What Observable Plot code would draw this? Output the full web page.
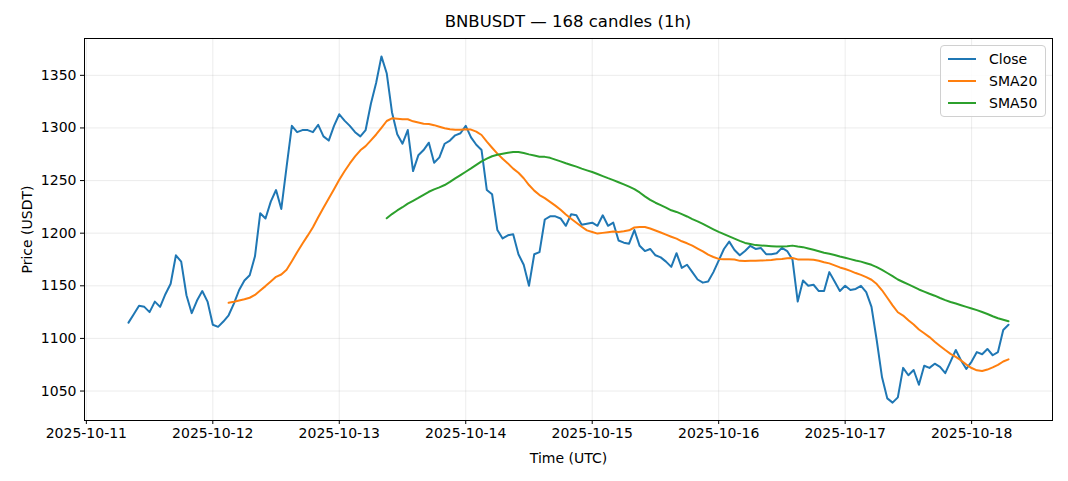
<!DOCTYPE html>
<html>
<head>
<meta charset="utf-8">
<script src="https://cdn.jsdelivr.net/npm/d3@7"></script>
<script src="https://cdn.jsdelivr.net/npm/@observablehq/plot@0.6"></script>
<style>
  body { margin: 0; background: #fff; font-family: "DejaVu Sans", sans-serif; }
  #wrap { position: relative; width: 1068px; height: 481px; overflow: hidden; }
  #title { height: 34px; box-sizing: border-box; padding-top: 10px; line-height: 24px; font-size: 16.5px; color: #000; position: relative; }
  #title span { position: absolute; left: 568px; transform: translateX(-50%); white-space: nowrap; }
  #legend { position: absolute; left: 940px; top: 45px; width: 106px; height: 72px; box-sizing: border-box;
    border: 1px solid #d0d0d0; border-radius: 4px; background: rgba(255,255,255,0.85); font-size: 14px; }
  .item { position: absolute; left: 7px; height: 22px; display: flex; align-items: center; }
  .item i { display: inline-block; width: 28px; height: 2px; margin-right: 13px; }
</style>
</head>
<body>
<div id="wrap">
  <div id="title"><span>BNBUSDT — 168 candles (1h)</span></div>
  <div id="chart"></div>
  <div id="legend"></div>
</div>
<script>
// ---- data ----
const firstCandleUTC = "2025-10-11T08:00:00Z";
const close = [
  1115,1123,1131,1130,1125,1135,1130,1142,1152,1179,
  1173,1141,1124,1136,1145,1135,1113,1111,1116,1122,
  1133,1146,1155,1160,1178,1219,1214,1230,1241,1223,
  1263,1302,1296,1298,1298,1296,1303,1292,1288,1302,
  1313,1307,1302,1296,1292,1298,1323,1343,1368,1352,
  1315,1294,1285,1298,1259,1274,1279,1286,1267,1272,
  1285,1288,1293,1295,1302,1291,1284,1279,1241,1237,
  1203,1195,1198,1199,1180,1170,1150,1180,1182,1213,
  1216,1216,1214,1207,1218,1217,1208,1209,1210,1207,
  1217,1207,1210,1193,1191,1190,1203,1188,1183,1185,
  1179,1177,1173,1168,1181,1167,1170,1163,1156,1153,
  1154,1163,1174,1185,1192,1184,1179,1183,1188,1185,
  1186,1180,1180,1181,1186,1183,1175,1135,1155,1150,
  1151,1145,1145,1163,1154,1145,1150,1146,1147,1150,
  1144,1130,1098,1063,1043,1039,1044,1072,1065,1070,
  1056,1074,1072,1076,1073,1067,1078,1089,1079,1071,
  1078,1087,1085,1090,1084,1087,1108,1113
];
const tickLabels = ["2025-10-11","2025-10-12","2025-10-13","2025-10-14","2025-10-15","2025-10-16","2025-10-17","2025-10-18"];
const yTicks = [1050,1100,1150,1200,1250,1300,1350];
const seriesNames = ["Close","SMA20","SMA50"];
const seriesColors = ["#1f77b4","#ff7f0e","#2ca02c"];

// ---- table ----
const t0 = new Date(firstCandleUTC).getTime();
const HOUR = 3600e3;
const rows = close.map((c, i) => ({time: new Date(t0 + i * HOUR), close: c}));
const tStart = rows[0].time.getTime(), tEnd = rows[rows.length - 1].time.getTime();
const pad = (tEnd - tStart) * 0.05;
const xTicks = tickLabels.map(s => new Date(s + "T00:00:00Z"));
const fmt = d3.utcFormat("%Y-%m-%d");

const chart = Plot.plot({
  width: 1068,
  height: 447,
  marginTop: 4,
  marginBottom: 61,
  marginLeft: 84,
  marginRight: 16,
  style: {fontFamily: "DejaVu Sans, sans-serif", fontSize: "14px", color: "#000", background: "#fff"},
  x: {type: "utc", domain: [new Date(tStart - pad), new Date(tEnd + pad)]},
  y: {domain: [1022, 1385]},
  marks: [
    Plot.gridX(xTicks, {stroke: "#b0b0b0", strokeOpacity: 0.3, strokeWidth: 0.8}),
    Plot.gridY(yTicks, {stroke: "#b0b0b0", strokeOpacity: 0.3, strokeWidth: 0.8}),
    Plot.axisX(xTicks, {tickFormat: fmt, tickSize: 4, tickPadding: 4, label: "Time (UTC)", labelAnchor: "center", labelOffset: 42, labelArrow: "none", fontSize: 14}),
    Plot.axisY(yTicks, {tickFormat: d => String(d), tickSize: 4, tickPadding: 4, label: "Price (USDT)", labelAnchor: "center", labelOffset: 62, fontSize: 14, labelArrow: "none"}),
    Plot.lineY(rows, {x: "time", y: "close", stroke: seriesColors[0], strokeWidth: 2}),
    Plot.lineY(rows, Plot.windowY({k: 20, anchor: "end", reduce: "mean", strict: true}, {x: "time", y: "close", stroke: seriesColors[1], strokeWidth: 2})),
    Plot.lineY(rows, Plot.windowY({k: 50, anchor: "end", reduce: "mean", strict: true}, {x: "time", y: "close", stroke: seriesColors[2], strokeWidth: 2})),
    Plot.frame({stroke: "#000", strokeWidth: 1})
  ]
});
document.getElementById("chart").appendChild(chart);

const legend = document.getElementById("legend");
seriesNames.forEach((n, i) => {
  const d = document.createElement("div");
  d.className = "item";
  d.style.top = (2 + i * 22) + "px";
  d.innerHTML = `<i style="background:${seriesColors[i]}"></i><span>${n}</span>`;
  legend.appendChild(d);
});
</script>
</body>
</html>
